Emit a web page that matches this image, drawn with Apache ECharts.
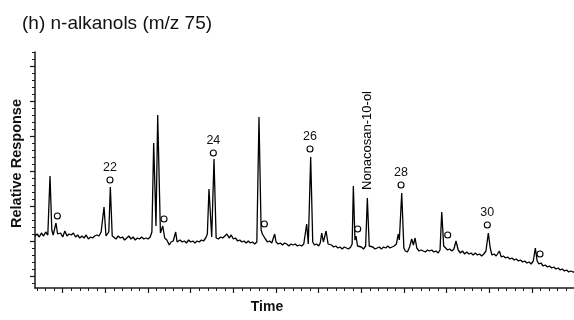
<!DOCTYPE html>
<html>
<head>
<meta charset="utf-8">
<script src="https://cdn.jsdelivr.net/npm/echarts@6/dist/echarts.min.js"></script>
<style>
  html, body { margin: 0; padding: 0; background: #fff; }
  #chart { width: 574px; height: 320px; }
</style>
</head>
<body>
<div id="chart"></div>
<script>
// m/z 75 trace: [retention time (min), response]
const trace = [
  [16.75,52],[17.00,54],[17.25,51],[17.50,55],[17.75,52],[18.00,56],[18.25,53],[18.32,54],[18.51,112],[18.72,58],
  [18.88,53],[19.05,53],[19.21,65],[19.40,54],[19.55,52],[19.75,55],[20.00,51],[20.25,57],[20.50,52],[20.75,54],
  [21.00,53],[21.25,55],[21.50,51],[21.75,53],[22.00,50],[22.25,52],[22.50,50],[22.75,53],[23.00,49],[23.25,51],
  [23.50,50],[23.75,52],[24.00,53],[24.25,52],[24.50,56],[24.69,57],[24.84,81],[25.07,52],[25.22,54],[25.40,56],
  [25.58,101],[25.80,52],[26.00,51],[26.25,49],[26.50,52],[26.75,50],[27.00,51],[27.25,48],[27.50,50],[27.75,52],
  [28.00,49],[28.25,51],[28.50,48],[28.75,50],[29.00,49],[29.25,51],[29.50,49],[29.75,50],[30.00,49],[30.25,51],
  [30.45,56],[30.66,145],[30.93,62],[31.13,173],[31.45,55],[31.72,62],[31.95,50],[32.20,48],[32.49,43],[32.70,46],
  [32.95,47],[33.12,48],[33.24,56],[33.40,46],[33.75,48],[34.00,46],[34.25,47],[34.50,45],[34.75,48],[35.00,46],
  [35.25,47],[35.50,45],[35.75,47],[36.00,46],[36.25,48],[36.50,47],[36.75,50],[36.95,54],[37.14,99],[37.46,51],
  [37.73,129],[37.98,50],[38.25,49],[38.50,51],[38.75,50],[39.00,52],[39.25,54],[39.50,50],[39.75,53],[40.00,49],
  [40.25,50],[40.50,47],[40.75,48],[41.00,46],[41.25,47],[41.50,45],[41.75,47],[42.00,45],[42.25,46],[42.50,44],
  [42.75,46],[42.88,48],[43.00,171],[43.25,58],[43.40,54],[43.55,52],[43.75,49],[44.00,46],[44.25,47],[44.50,45],
  [44.70,46],[44.84,54],[45.00,46],[45.25,44],[45.50,45],[45.75,43],[46.00,45],[46.25,44],[46.50,42],[46.75,44],
  [47.00,43],[47.25,44],[47.50,42],[47.75,43],[48.00,42],[48.25,44],[48.45,46],[48.59,64],[48.78,44],[49.06,131],
  [49.30,46],[49.50,43],[49.75,44],[50.00,42],[50.18,45],[50.35,55],[50.55,46],[50.70,47],[50.86,57],[51.10,44],
  [51.30,42],[51.50,43],[51.75,41],[52.00,42],[52.25,40],[52.50,41],[52.75,39],[53.00,41],[53.25,40],[53.50,39],
  [53.75,41],[53.92,44],[54.06,102],[54.25,48],[54.37,52],[54.55,42],[54.75,40],[55.00,41],[55.25,39],[55.50,42],
  [55.70,90],[55.92,42],[56.10,40],[56.35,41],[56.60,39],[56.85,40],[57.10,41],[57.35,39],[57.60,41],[57.85,40],
  [58.10,42],[58.35,40],[58.60,41],[58.85,42],[59.10,44],[59.33,54],[59.45,48],[59.73,95],[59.98,40],[60.15,37],
  [60.40,36],[60.65,41],[60.90,49],[61.10,43],[61.29,50],[61.50,40],[61.75,37],[62.00,38],[62.25,37],[62.50,36],
  [62.75,38],[63.00,37],[63.25,38],[63.50,36],[63.75,37],[64.00,35],[64.22,38],[64.42,76],[64.65,42],[64.85,40],
  [65.10,38],[65.35,39],[65.60,37],[65.85,39],[66.09,47],[66.35,38],[66.60,35],[66.85,37],[67.10,34],[67.35,36],
  [67.60,34],[67.85,35],[68.10,33],[68.35,35],[68.60,33],[68.85,34],[69.10,32],[69.35,34],[69.60,37],[69.88,55],
  [70.10,40],[70.30,33],[70.55,34],[70.80,32],[70.95,33],[71.17,37],[71.40,31],[71.65,32],[71.90,30],[72.15,31],
  [72.40,29],[72.65,30],[72.90,28],[73.15,29],[73.40,27],[73.65,28],[73.90,26],[74.15,27],[74.40,25],[74.65,26],
  [74.90,24],[75.15,27],[75.39,40],[75.60,27],[75.80,24],[76.05,25],[76.30,22],[76.55,23],[76.80,21],[77.05,22],
  [77.30,20],[77.55,21],[77.80,19],[78.05,20],[78.30,18],[78.55,19],[78.80,17],[79.05,18],[79.30,16],[79.55,17],
  [79.80,16],[79.92,16]
];

// open circles marking n-alkanols, with carbon numbers
const circleTimes  = [19.37, 25.54, 31.87, 37.65, 43.63, 48.98, 54.57, 59.65, 65.12, 69.76, 75.94];
const circleValues = [72, 108, 69, 135, 64, 139, 59, 103, 53, 63, 34];
const circleLabels = ['', '22', '', '24', '', '26', '', '28', '', '30', ''];

// named compound above its peak
const compoundName = 'Nonacosan-10-ol';
const compoundPeak = [55.70, 90];

// axis ticks (labels are hidden in the figure)
const timeMin = 16.75, timeMax = 79.92;
const timeMajorTicks = [20, 25, 30, 35, 40, 45, 50, 55, 60, 65, 70, 75];
const timeMinorTicks = [17, 18, 19, 21, 22, 23, 24, 26, 27, 28, 29, 31, 32, 33, 34, 36, 37, 38, 39,
  41, 42, 43, 44, 46, 47, 48, 49, 51, 52, 53, 54, 56, 57, 58, 59, 61, 62, 63, 64, 66, 67, 68, 69,
  71, 72, 73, 74, 76, 77, 78, 79];
const respMin = 0, respMax = 236;
const respMajorTicks = [12, 47, 82, 117, 152, 187, 222];
const respMinorTicks = [5, 19, 26, 33, 40, 54, 61, 68, 75, 89, 96, 103, 110, 124, 131, 138, 145,
  159, 166, 173, 180, 194, 201, 208, 215, 229, 236];

const FONT = 'Liberation Sans';
const AXIS_COLOR = '#1a1a1a';

const chart = echarts.init(document.getElementById('chart'));

const circleData = circleTimes.map((t, i) => ({
  value: [t, circleValues[i]],
  label: { show: circleLabels[i] !== '', formatter: circleLabels[i] }
}));

function tickAxis(extra) {
  return Object.assign({
    type: 'value',
    axisLabel: { show: false },
    splitLine: { show: false },
    minorTick: { show: false }
  }, extra);
}

chart.setOption({
  animation: false,
  backgroundColor: '#fff',
  textStyle: { fontFamily: FONT },
  title: {
    text: '(h) n-alkanols (m/z 75)',
    left: 17,
    top: 9,
    textStyle: { fontFamily: FONT, fontSize: 19, fontWeight: 'normal', color: '#111' }
  },
  grid: { left: 35, right: 0, top: 52, bottom: 32, containLabel: false, outerBoundsMode: 'none' },
  xAxis: [
    tickAxis({
      min: timeMin, max: timeMax, position: 'bottom',
      name: 'Time', nameLocation: 'middle', nameGap: 12,
      nameTextStyle: { fontFamily: FONT, fontSize: 14, fontWeight: 'bold', color: '#111', padding: [0, 75, 0, 0] },
      axisLine: { show: true, onZero: false, lineStyle: { color: AXIS_COLOR, width: 1.5 } },
      axisTick: { show: true, length: 5, customValues: timeMajorTicks, lineStyle: { color: AXIS_COLOR, width: 1.2 } }
    }),
    tickAxis({
      min: timeMin, max: timeMax, position: 'bottom',
      axisLine: { show: false },
      axisTick: { show: true, length: 3, customValues: timeMinorTicks, lineStyle: { color: AXIS_COLOR, width: 1 } }
    })
  ],
  yAxis: [
    tickAxis({
      min: respMin, max: respMax, position: 'left',
      name: 'Relative Response', nameLocation: 'middle', nameGap: 11,
      nameTextStyle: { fontFamily: FONT, fontSize: 14.5, fontWeight: 'bold', color: '#111', padding: [0, 0, 0, 13] },
      axisLine: { show: true, onZero: false, lineStyle: { color: AXIS_COLOR, width: 1.5 } },
      axisTick: { show: true, length: 5, customValues: respMajorTicks, lineStyle: { color: AXIS_COLOR, width: 1.2 } }
    }),
    tickAxis({
      min: respMin, max: respMax, position: 'left',
      axisLine: { show: false },
      axisTick: { show: true, length: 3, customValues: respMinorTicks, lineStyle: { color: AXIS_COLOR, width: 1 } }
    })
  ],
  series: [
    {
      type: 'line',
      data: trace,
      showSymbol: false,
      symbol: 'none',
      silent: true,
      lineStyle: { color: '#000', width: 1.3 },
      z: 2
    },
    {
      type: 'scatter',
      data: circleData,
      symbol: 'circle',
      symbolSize: 6,
      silent: true,
      itemStyle: { color: '#fff', borderColor: '#000', borderWidth: 1.1, opacity: 1 },
      label: { position: 'top', distance: 2, fontFamily: FONT, fontSize: 12.5, color: '#111' },
      z: 3
    },
    {
      type: 'scatter',
      data: [compoundPeak],
      symbolSize: 0,
      silent: true,
      label: {
        show: true, formatter: compoundName, position: 'top', distance: 8,
        rotate: 90, align: 'left', verticalAlign: 'middle',
        fontFamily: FONT, fontSize: 13, color: '#000', opacity: 1
      },
      z: 3
    }
  ]
});
</script>
</body>
</html>
